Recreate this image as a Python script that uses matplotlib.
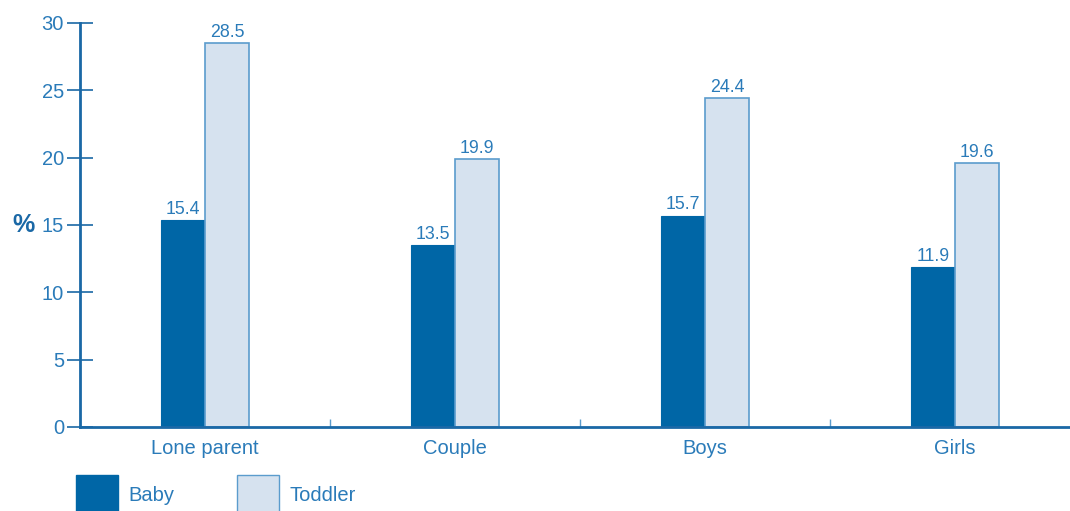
import numpy as np
import matplotlib.pyplot as plt
from matplotlib.patches import Patch

plt.rcParams['font.family'] = ['Liberation Sans', 'DejaVu Sans']

groups = ['Lone parent', 'Couple', 'Boys', 'Girls']
baby = [15.4, 13.5, 15.7, 11.9]
toddler = [28.5, 19.9, 24.4, 19.6]

dark = '#0066a6'
light = '#d6e2ef'
edge = '#5b9ccd'
txt = '#2a7bb9'
axis_col = '#1a68a6'

fig = plt.figure(figsize=(10.7, 5.11), dpi=100)
ax = fig.add_axes([0.0748, 0.1644, 0.9252, 0.7906])

x = np.arange(len(groups))
w = 0.176
b1 = ax.bar(x - w / 2, baby, w, color=dark, edgecolor=dark, linewidth=0.8)
b2 = ax.bar(x + w / 2, toddler, w, color=light, edgecolor=edge, linewidth=1.2)

for bars, vals in [(b1, baby), (b2, toddler)]:
    for r, v in zip(bars, vals):
        ax.annotate(f'{v:.1f}', (r.get_x() + r.get_width() / 2, v),
                    xytext=(0, 1.5), textcoords='offset points',
                    ha='center', va='bottom', fontsize=12.8, color=txt)

ax.set_xlim(-0.5, 3.46)
ax.set_ylim(0, 30)
ax.set_yticks(np.arange(0, 31, 5))
ax.set_xticks(x)
ax.set_xticklabels(groups)
ax.set_xticks([0.5, 1.5, 2.5], minor=True)

ax.tick_params(axis='y', direction='inout', length=19, width=1.2, color=axis_col,
               labelsize=14.5, labelcolor=txt, pad=2)
ax.tick_params(axis='x', which='major', length=0, labelsize=14.5, labelcolor=txt, pad=9)
ax.tick_params(axis='x', which='minor', direction='in', length=6, width=1, color=edge)

for s in ['top', 'right']:
    ax.spines[s].set_visible(False)
for s in ['left', 'bottom']:
    ax.spines[s].set_color(axis_col)
    ax.spines[s].set_linewidth(2)

ax.set_ylabel('%', rotation=0, fontsize=18, fontweight='bold', color=axis_col,
              va='center', labelpad=13)

# legend boxes run off the bottom edge of the figure
handles = [Patch(facecolor=dark, edgecolor=dark, label='Baby'),
           Patch(facecolor=light, edgecolor=edge, label='Toddler')]
fig.legend(handles=handles, loc='upper left', bbox_to_anchor=(0.071, 0.07),
           ncol=2, frameon=False, fontsize=14.5, labelcolor=txt,
           handlelength=2.1, handleheight=2.7, handletextpad=0.5,
           columnspacing=3.1, borderpad=0, borderaxespad=0)

fig.savefig('out.png', dpi=100)
